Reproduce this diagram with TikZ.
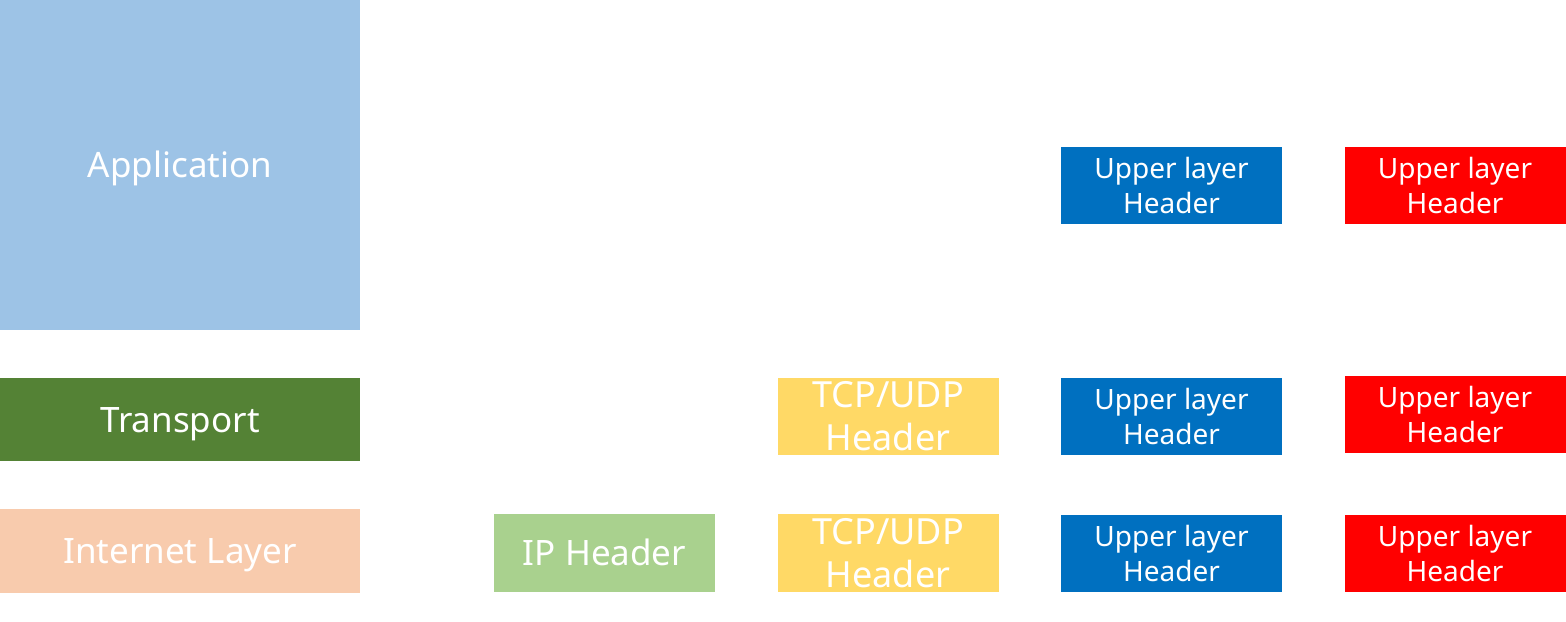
\documentclass[tikz,border=0pt]{standalone}
\usepackage{fontspec}
\setmainfont{Noto Sans}
\usetikzlibrary{positioning}
\definecolor{appblue}{HTML}{9DC3E6}
\definecolor{transgreen}{HTML}{548235}
\definecolor{inetpeach}{HTML}{F8CBAD}
\definecolor{ipgreen}{HTML}{A9D18E}
\definecolor{tcpyellow}{HTML}{FFD966}
\definecolor{upblue}{HTML}{0070C0}
\definecolor{upred}{HTML}{FF0000}

\begin{document}
\begin{tikzpicture}[x=0.5pt,y=-0.5pt,
  box/.style={inner sep=0pt,outer sep=0pt,text=white,align=center},
  onerow/.style={text height=12.5pt,text depth=0pt,font=\fontsize{17.5}{21}\selectfont},
  layerbox/.style={box,onerow,minimum width=180pt},
  hdrbox/.style={box,minimum width=110.5pt,minimum height=38.5pt},
  tcpbox/.style={hdrbox,fill=tcpyellow,font=\fontsize{18}{21.5}\selectfont},
  upbox/.style={hdrbox,font=\fontsize{14}{17.5}\selectfont}]
 \useasboundingbox (0,0) rectangle (1566,621);
 % layers
 \node[layerbox,fill=appblue,minimum height=165pt] (app) at (180,165) {Application};
 \node[layerbox,fill=transgreen,minimum height=41.5pt] (trans) at (180,419.5) {Transport};
 \node[layerbox,fill=inetpeach,minimum height=42pt] (inet) at (180,551) {Internet Layer};
 % headers
 \node[hdrbox,onerow,fill=ipgreen,minimum height=39pt] (ip) at (604.5,553) {IP Header};
 \node[tcpbox] (tcp1) at (888,416.5) {TCP/UDP\\Header};
 \node[tcpbox,minimum height=39pt] (tcp2) at (888,553) {TCP/UDP\\Header};
 \foreach \n/\y in {1/185.5,2/416.5,3/553}{
  \node[upbox,fill=upblue] (upb\n) at (1171.5,\y) {Upper layer\\Header};}
 \foreach \n/\y in {1/185.5,2/414,3/553}{
  \node[upbox,fill=upred] (upr\n) at (1455,\y) {Upper layer\\Header};}
\end{tikzpicture}
\end{document}
